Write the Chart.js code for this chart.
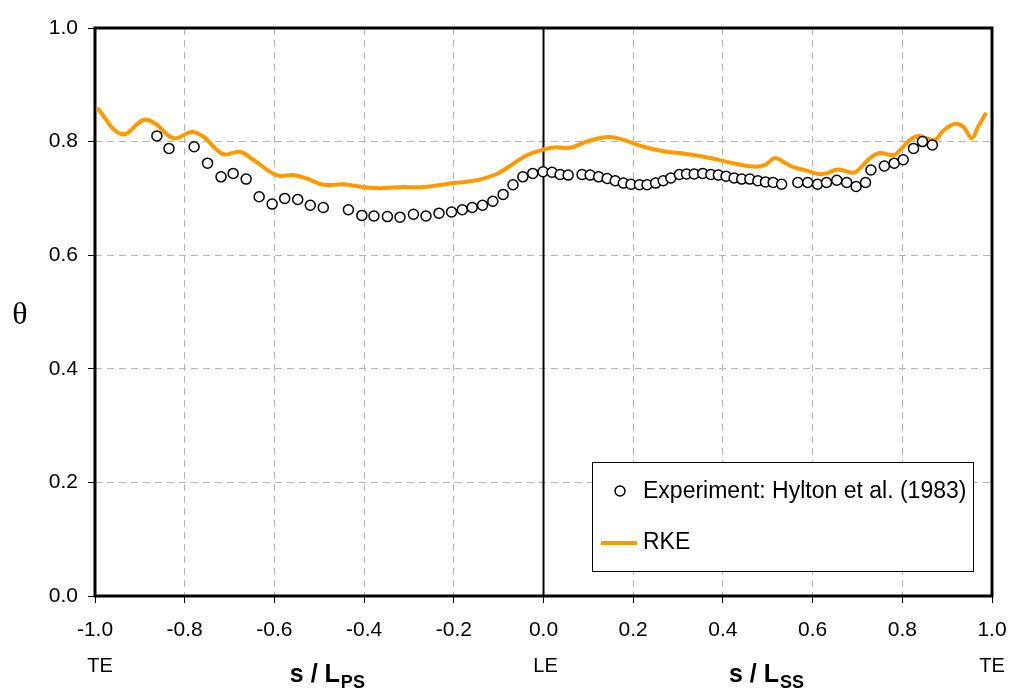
<!DOCTYPE html>
<html>
<head>
<meta charset="utf-8">
<script src="https://cdn.jsdelivr.net/npm/chart.js@4.4.1/dist/chart.umd.min.js"></script>
<style>
  html, body { margin: 0; padding: 0; background: #fff; }
  #wrap { width: 1013px; height: 698px; }
</style>
</head>
<body>
<div id="wrap"><canvas id="chart" width="1013" height="698"></canvas></div>
<script>
// experiment (Hylton et al. 1983)
const expX = [-0.862, -0.835, -0.779, -0.749, -0.719, -0.692, -0.663, -0.634, -0.605, -0.577, -0.548, -0.520, -0.491,
  -0.435, -0.405, -0.378, -0.348, -0.320, -0.290, -0.262, -0.233, -0.205, -0.181, -0.159, -0.136, -0.113, -0.090,
  -0.068, -0.046, -0.024, -0.001, 0.019, 0.037, 0.055, 0.086, 0.104, 0.123, 0.142, 0.160, 0.178, 0.195, 0.214, 0.231,
  0.250, 0.267, 0.284, 0.303, 0.319, 0.336, 0.355, 0.373, 0.390, 0.407, 0.425, 0.442, 0.460, 0.478, 0.495, 0.512,
  0.531, 0.567, 0.589, 0.611, 0.631, 0.654, 0.676, 0.697, 0.718, 0.730, 0.760, 0.782, 0.802, 0.825, 0.845, 0.867];
const expY = [0.810, 0.788, 0.791, 0.762, 0.738, 0.744, 0.734, 0.703, 0.690, 0.700, 0.698, 0.688, 0.684,
  0.680, 0.670, 0.669, 0.668, 0.667, 0.672, 0.669, 0.674, 0.676, 0.680, 0.684, 0.688, 0.695, 0.707,
  0.724, 0.738, 0.744, 0.747, 0.746, 0.742, 0.741, 0.742, 0.741, 0.738, 0.735, 0.731, 0.727, 0.725, 0.724, 0.724,
  0.727, 0.731, 0.736, 0.742, 0.743, 0.743, 0.744, 0.742, 0.741, 0.739, 0.736, 0.734, 0.734, 0.731, 0.729, 0.728,
  0.725, 0.728, 0.728, 0.725, 0.728, 0.732, 0.728, 0.721, 0.728, 0.750, 0.757, 0.762, 0.768, 0.788, 0.800, 0.794];

// RKE simulation
const rkeX = [-0.995, -0.940, -0.892, -0.866, -0.825, -0.784, -0.759, -0.714, -0.677, -0.647, -0.595, -0.558, -0.528,
  -0.491, -0.446, -0.402, -0.365, -0.313, -0.268, -0.201, -0.149, -0.104, -0.075, -0.037, 0.000, 0.029, 0.059, 0.096,
  0.145, 0.178, 0.223, 0.267, 0.319, 0.371, 0.423, 0.468, 0.494, 0.516, 0.538, 0.557, 0.587, 0.613, 0.631, 0.657,
  0.691, 0.706, 0.728, 0.750, 0.780, 0.795, 0.817, 0.836, 0.854, 0.873, 0.891, 0.917, 0.936, 0.955, 0.969, 0.987];
const rkeY = [0.859, 0.813, 0.838, 0.832, 0.806, 0.817, 0.809, 0.778, 0.782, 0.768, 0.741, 0.741, 0.735,
  0.724, 0.725, 0.720, 0.718, 0.720, 0.720, 0.727, 0.732, 0.743, 0.757, 0.776, 0.786, 0.790, 0.789, 0.800,
  0.808, 0.803, 0.791, 0.783, 0.778, 0.771, 0.762, 0.756, 0.759, 0.771, 0.763, 0.755, 0.749, 0.743, 0.744, 0.751,
  0.745, 0.753, 0.771, 0.780, 0.776, 0.785, 0.803, 0.810, 0.806, 0.803, 0.819, 0.831, 0.826, 0.806, 0.826, 0.851];

const edgePos = [-1, 0, 1];
const edgeLabels = ['TE', 'LE', 'TE'];
const seriesNames = ['Experiment: Hylton et al. (1983)', 'RKE'];

const orange = 'rgb(255, 153, 0)';
const FONT = '"Liberation Sans", Arial, sans-serif';

const fmt = v => (Math.abs(v) < 1e-9 ? 0 : v).toFixed(1);

const extras = {
  id: 'extras',
  beforeDatasetsDraw(chart) {
    const { ctx, chartArea: a, scales: { x } } = chart;
    ctx.save();
    ctx.strokeStyle = '#000';
    // LE line
    ctx.lineWidth = 2;
    const x0 = x.getPixelForValue(0);
    ctx.beginPath();
    ctx.moveTo(x0, a.top);
    ctx.lineTo(x0, a.bottom);
    ctx.stroke();
    // frame
    ctx.lineWidth = 3;
    ctx.strokeRect(a.left, a.top, a.right - a.left, a.bottom - a.top);
    ctx.restore();
  },
  afterDraw(chart) {
    const { ctx, scales: { x } } = chart;
    ctx.save();
    ctx.fillStyle = '#000';
    ctx.textBaseline = 'middle';
    ctx.textAlign = 'center';

    // theta
    ctx.font = '32px "Liberation Serif", "Times New Roman", serif';
    ctx.fillText('\u03B8', 20, 316);

    // TE / LE
    ctx.font = '20px ' + FONT;
    const shift = [5, 2, 0];
    edgePos.forEach((p, i) => {
      ctx.fillText(edgeLabels[i], x.getPixelForValue(p) + shift[i], 666);
    });

    // s / L labels
    const axisLabel = (cx, sub) => {
      ctx.textAlign = 'left';
      ctx.textBaseline = 'alphabetic';
      ctx.font = 'bold 25px ' + FONT;
      const main = 's / L';
      const w1 = ctx.measureText(main).width;
      ctx.font = 'bold 18px ' + FONT;
      const w2 = ctx.measureText(sub).width;
      const start = cx - (w1 + w2) / 2;
      ctx.font = 'bold 25px ' + FONT;
      ctx.fillText(main, start, 682);
      ctx.font = 'bold 18px ' + FONT;
      ctx.fillText(sub, start + w1 + 1, 688);
    };
    axisLabel(x.getPixelForValue(-0.483), 'PS');
    axisLabel(x.getPixelForValue(0.496), 'SS');

    // legend box
    const lx = 592, ly = 462, lw = 381, lh = 109;
    ctx.fillStyle = '#fff';
    ctx.fillRect(lx, ly, lw, lh);
    ctx.strokeStyle = '#000';
    ctx.lineWidth = 1;
    ctx.strokeRect(lx + 0.5, ly + 0.5, lw, lh);

    ctx.beginPath();
    ctx.arc(620, 491, 5, 0, Math.PI * 2);
    ctx.fillStyle = '#fff';
    ctx.fill();
    ctx.lineWidth = 1.5;
    ctx.stroke();

    ctx.strokeStyle = orange;
    ctx.lineWidth = 4;
    ctx.beginPath();
    ctx.moveTo(601, 543);
    ctx.lineTo(637, 543);
    ctx.stroke();

    ctx.fillStyle = '#000';
    ctx.font = '23px ' + FONT;
    ctx.textAlign = 'left';
    ctx.textBaseline = 'middle';
    ctx.fillText(seriesNames[0], 643, 492);
    ctx.fillText(seriesNames[1], 643, 543);
    ctx.restore();
  }
};

const tickFont = { family: FONT, size: 21 };

new Chart(document.getElementById('chart').getContext('2d'), {
  type: 'scatter',
  data: {
    datasets: [
      {
        label: seriesNames[0],
        data: expX.map((v, i) => ({ x: v, y: expY[i] })),
        pointRadius: 5,
        pointBorderWidth: 1.5,
        pointBorderColor: '#000',
        pointBackgroundColor: '#fff',
        showLine: false
      },
      {
        label: seriesNames[1],
        data: rkeX.map((v, i) => ({ x: v, y: rkeY[i] })),
        showLine: true,
        borderColor: orange,
        borderWidth: 4,
        pointRadius: 0,
        tension: 0.4,
        fill: false
      }
    ]
  },
  options: {
    responsive: false,
    animation: false,
    layout: { padding: { left: 0, top: 28, right: 21, bottom: 0 } },
    plugins: {
      legend: { display: false },
      tooltip: { enabled: false }
    },
    scales: {
      x: {
        type: 'linear',
        min: -1,
        max: 1,
        afterFit: s => { s.height = 102; s.paddingLeft = 0; s.paddingRight = 0; },
        ticks: {
          stepSize: 0.2,
          color: '#000',
          font: tickFont,
          padding: 15,
          maxRotation: 0,
          callback: fmt
        },
        grid: {
          color: '#b4b4b4',
          lineWidth: 1,
          tickLength: 7,
          tickColor: '#000',
          tickBorderDash: []
        },
        border: { display: false, dash: [7, 5] }
      },
      y: {
        min: 0,
        max: 1,
        afterFit: s => { s.width = 95; s.paddingTop = 0; s.paddingBottom = 0; },
        ticks: {
          stepSize: 0.2,
          color: '#000',
          font: tickFont,
          padding: 10,
          callback: fmt
        },
        grid: {
          color: '#b4b4b4',
          lineWidth: 1,
          tickLength: 7,
          tickColor: '#000',
          tickBorderDash: []
        },
        border: { display: false, dash: [7, 5] }
      }
    }
  },
  plugins: [extras]
});
</script>
</body>
</html>
